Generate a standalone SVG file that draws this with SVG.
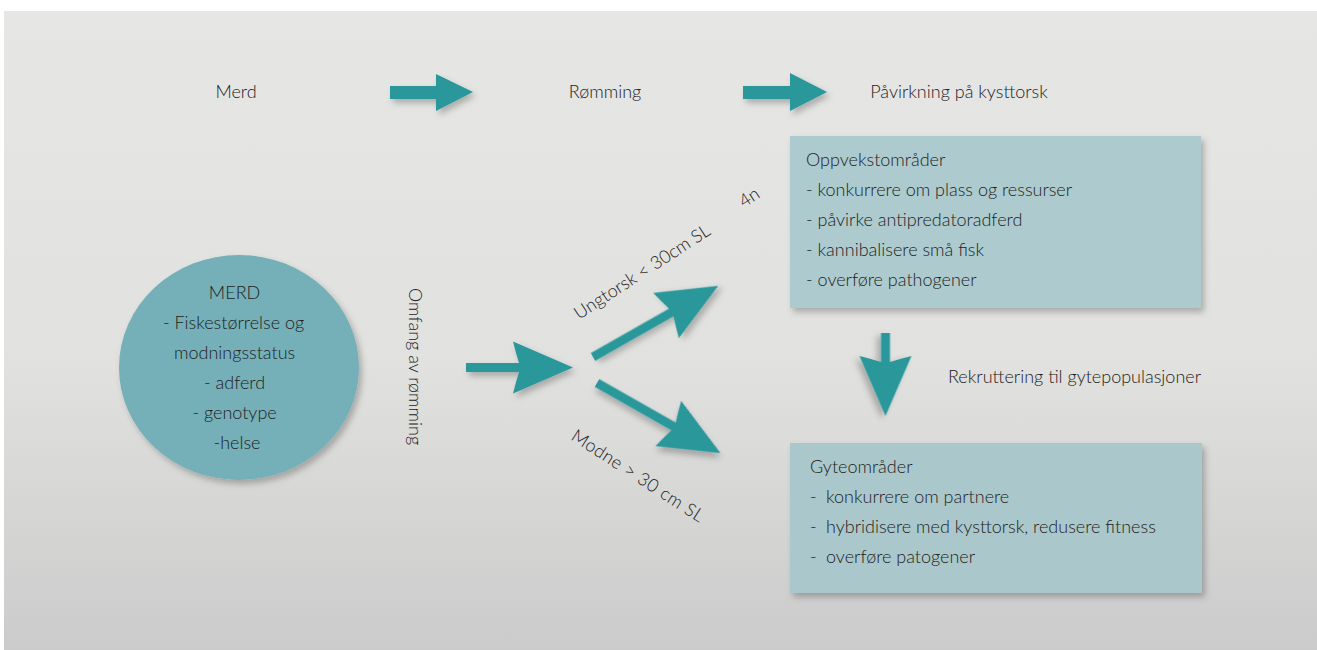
<svg xmlns="http://www.w3.org/2000/svg" width="1317" height="650" viewBox="0 0 1317 650">
<defs>
<linearGradient id="bg" x1="0" y1="0" x2="0" y2="1">
<stop offset="0" stop-color="#e6e6e4"/>
<stop offset="0.55" stop-color="#e1e1df"/>
<stop offset="1" stop-color="#cbcbcb"/>
</linearGradient>
<filter id="sh" x="-20%" y="-20%" width="150%" height="150%">
<feDropShadow dx="3" dy="4" stdDeviation="3" flood-color="#000" flood-opacity="0.25"/>
</filter>
<style>
.t{font-family:Lato,"Open Sans",sans-serif;font-size:18px;font-weight:300;fill:#222222}
.ar{fill:#2a979b;filter:url(#sh)}
.box{filter:url(#sh)}
</style>
</defs>
<rect x="0" y="0" width="1317" height="650" fill="#ffffff"/>
<rect x="4" y="11" width="1313" height="639" fill="url(#bg)"/>

<g id="connectors">
<path class="ar" d="M390,86 L436,86 L436,74 L473,92 L436,111 L436,99 L390,99 Z"/>
<path class="ar" d="M743,86 L790,86 L790,73 L827,92 L790,111 L790,99 L743,99 Z"/>
<path class="ar" transform="translate(466,367.5)" d="M0,-4.5 L53,-4.5 Q50,-14 47,-26 L107,0 L47,26 Q50,14 53,4.5 L0,4.5 Z"/>
<path class="ar" transform="translate(593,357) rotate(-29.6)" d="M0,-4.5 L90,-4.5 Q87,-14 84,-26 L144,0 L84,26 Q87,14 90,4.5 L0,4.5 Z"/>
<path class="ar" transform="translate(597,383) rotate(29.6)" d="M0,-4.5 L88,-4.5 Q85,-14 82,-26 L142,0 L82,26 Q85,14 88,4.5 L0,4.5 Z"/>
<path class="ar" transform="translate(885.5,333) rotate(90)" d="M0,-4.5 L29,-4.5 Q26,-14 23,-26 L83,0 L23,26 Q26,14 29,4.5 L0,4.5 Z"/>
</g>

<g id="label-merd"><text class="t" x="236" y="98" text-anchor="middle">Merd</text></g>
<g id="label-romming"><text class="t" x="605" y="98" text-anchor="middle">Rømming</text></g>
<g id="label-pavirkning"><text class="t" x="959" y="98" text-anchor="middle">Påvirkning på kysttorsk</text></g>

<g id="node-merd">
<ellipse cx="239" cy="367.5" rx="120" ry="112.5" fill="#74afb8" class="box"/>
<text class="t" text-anchor="middle" x="237">
<tspan x="237" y="299">MERD</tspan>
<tspan x="236" y="329">- Fiskestørrelse og</tspan>
<tspan x="237" y="359">modningsstatus</tspan>
<tspan x="237" y="389">- adferd</tspan>
<tspan x="237" y="419">- genotype</tspan>
<tspan x="237" y="449">-helse</tspan>
</text>
</g>

<g id="label-omfang"><text class="t" transform="translate(409,288) rotate(90)">Omfang av rømming</text></g>
<g id="label-ungtorsk"><text class="t" transform="translate(579,320) rotate(-33)">Ungtorsk &lt; 30cm SL</text></g>
<g id="label-4n"><text class="t" transform="translate(744,208) rotate(-33)">4n</text></g>
<g id="label-modne"><text class="t" transform="translate(570,439) rotate(33)" letter-spacing="0.4">Modne &gt; 30 cm SL</text></g>

<g id="node-oppvekst">
<rect x="790" y="136" width="411" height="172" fill="#adcbcf" class="box"/>
<text class="t">
<tspan x="806" y="166">Oppvekstområder</tspan>
<tspan x="806" y="196">- konkurrere om plass og ressurser</tspan>
<tspan x="806" y="226">- påvirke antipredatoradferd</tspan>
<tspan x="806" y="256">- kannibalisere små fisk</tspan>
<tspan x="806" y="286">- overføre pathogener</tspan>
</text>
</g>

<g id="label-rekruttering"><text class="t" x="948" y="383">Rekruttering til gytepopulasjoner</text></g>

<g id="node-gyte">
<rect x="790" y="443" width="412" height="150" fill="#aac8cb" class="box"/>
<text class="t">
<tspan x="810" y="473">Gyteområder</tspan>
<tspan x="810" y="503">-</tspan><tspan x="826">konkurrere om partnere</tspan>
<tspan x="810" y="533">-</tspan><tspan x="826">hybridisere med kysttorsk, redusere fitness</tspan>
<tspan x="810" y="563">-</tspan><tspan x="826">overføre patogener</tspan>
</text>
</g>
</svg>
